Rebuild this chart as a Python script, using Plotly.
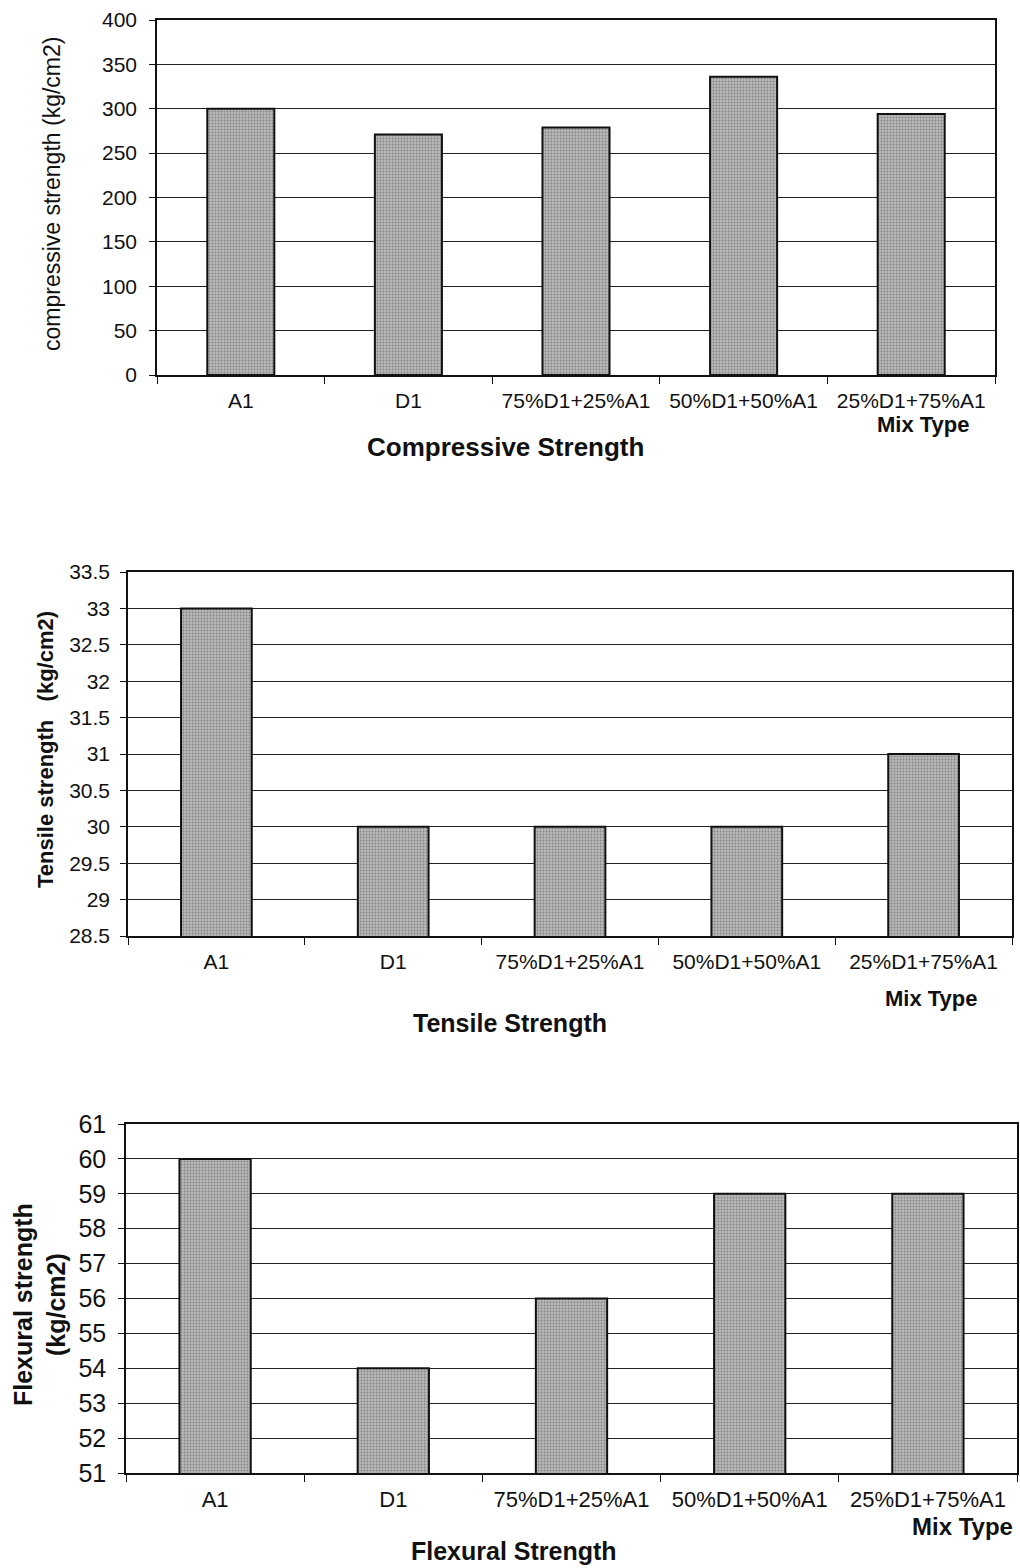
import plotly.graph_objects as go

W, H = 1020, 1568

mix_types = ["A1", "D1", "75%D1+25%A1", "50%D1+50%A1", "25%D1+75%A1"]
compressive = [300, 271, 279, 336, 294]
tensile = [33, 30, 30, 30, 31]
flexural = [60, 54, 56, 59, 59]

FONT = "Liberation Sans, Arial, sans-serif"

def px(x):
    return x / W

def py(y):
    return 1 - y / H

bar_style = dict(
    color="#a0a0a0",
    line=dict(color="#111111", width=2),
    pattern=dict(shape=".", fgcolor="#505050", bgcolor="#b8b8b8", size=3, solidity=0.3),
)

fig = go.Figure()
fig.add_trace(go.Bar(x=mix_types, y=compressive, marker=bar_style, xaxis="x", yaxis="y", showlegend=False))
fig.add_trace(go.Bar(x=mix_types, y=tensile, marker=bar_style, xaxis="x2", yaxis="y2", showlegend=False))
fig.add_trace(go.Bar(x=mix_types, y=flexural, marker=bar_style, xaxis="x3", yaxis="y3", showlegend=False))

def xaxis(dom, anchor, fs):
    return dict(
        domain=[px(dom[0]), px(dom[1])], anchor=anchor, automargin=False,
        showline=True, linecolor="#111", linewidth=1.5, mirror=True,
        ticks="outside", tickson="boundaries", ticklen=7, tickcolor="#111",
        showgrid=False, tickfont=dict(family=FONT, size=fs, color="#111"),
        ticklabelstandoff=6, fixedrange=True,
    )

def yaxis(dom, anchor, rng, dtick, fs, standoff):
    return dict(
        domain=[py(dom[1]), py(dom[0])], anchor=anchor, range=rng, dtick=dtick,
        automargin=False,
        showline=True, linecolor="#111", linewidth=1.5, mirror=True,
        ticks="outside", ticklen=6, tickcolor="#111",
        showgrid=True, gridcolor="#222", gridwidth=1,
        tickfont=dict(family=FONT, size=fs, color="#111"),
        ticklabelstandoff=standoff, zeroline=False, fixedrange=True,
    )

fig.update_layout(
    width=W, height=H,
    margin=dict(l=0, r=0, t=0, b=0, autoexpand=False),
    paper_bgcolor="white", plot_bgcolor="white",
    bargap=0.6,
    xaxis=xaxis((157, 995), "y", 21),
    yaxis=yaxis((20, 375), "x", [0, 400], 50, 21, 8),
    xaxis2=xaxis((128, 1012), "y2", 21),
    yaxis2=yaxis((572, 936), "x2", [28.5, 33.5], 0.5, 21, 6),
    xaxis3=xaxis((126, 1017), "y3", 22),
    yaxis3=yaxis((1124, 1473), "x3", [51, 61], 1, 25, 7),
)

def ann(text, x, y, size, bold=False, angle=0, xanchor="center"):
    t = f"<b>{text}</b>" if bold else text
    fig.add_annotation(text=t, x=px(x), y=py(y), xref="paper", yref="paper",
                       xanchor=xanchor, yanchor="middle", showarrow=False, textangle=angle,
                       font=dict(family=FONT, size=size, color="#111"))

# Top chart
ann("compressive strength (kg/cm2)", 52, 194, 23, angle=-90)
ann("Mix Type", 923, 424, 22, bold=True)
ann("Compressive Strength", 505, 447, 26, bold=True)

# Middle chart
ann("Tensile strength &nbsp; (kg/cm2)", 45, 750, 22, bold=True, angle=-90)
ann("Mix Type", 931, 998, 22, bold=True)
ann("Tensile Strength", 510, 1023, 25, bold=True)

# Bottom chart
ann("Flexural strength<br>(kg/cm2)", 39, 1305, 25, bold=True, angle=-90)
ann("Mix Type", 962, 1526, 24, bold=True)
ann("Flexural Strength", 514, 1551, 25, bold=True)

fig.write_html("out.html")
